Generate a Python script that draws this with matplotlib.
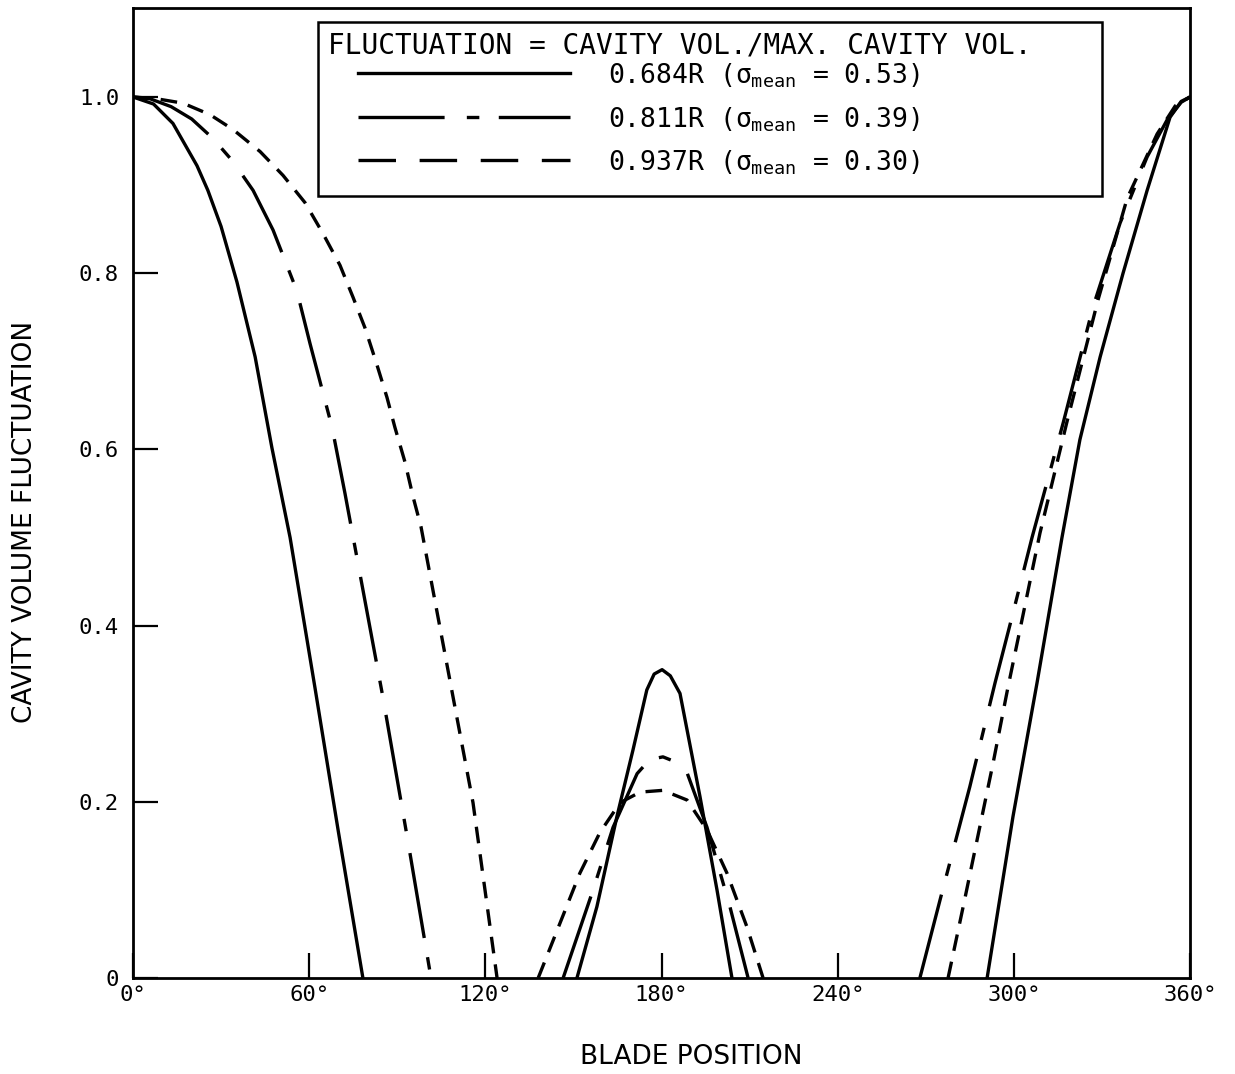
import numpy as np
import matplotlib
matplotlib.use('Agg')
import matplotlib.pyplot as plt
from matplotlib.patches import Rectangle

plt.rcParams['font.family'] = ['DejaVu Sans Mono', 'DejaVu Sans']
plt.rcParams['mathtext.fontset'] = 'custom'
plt.rcParams['mathtext.rm'] = 'DejaVu Sans Mono'
plt.rcParams['mathtext.it'] = 'DejaVu Sans Mono'
plt.rcParams['lines.scale_dashes'] = False

# 0.684R (solid) - three branches
r684_x = [0, 7, 13.6, 21.8, 25.5, 30.0, 35.4, 41.6, 47.3, 53.5, 62.0, 70.0, 78.3, np.nan,
          151.2, 158.0, 164.8, 170.3, 175.0, 177.5, 180.2, 183.0, 186.3, 193.1, 198.9, 204.0, np.nan,
          290.9, 299.7, 307.9, 316.4, 322.5, 329.4, 337.2, 345.4, 353.2, 357.0, 360.0]
r684_y = [1.0, 0.992, 0.970, 0.922, 0.894, 0.853, 0.790, 0.705, 0.602, 0.500, 0.329, 0.165, 0.0, np.nan,
          0.0, 0.081, 0.183, 0.259, 0.327, 0.345, 0.350, 0.343, 0.323, 0.206, 0.100, 0.0, np.nan,
          0.0, 0.183, 0.335, 0.500, 0.611, 0.705, 0.800, 0.894, 0.977, 0.995, 1.0]

# 0.811R (dash-dot)
r811_x = [0, 5.8, 13.0, 20.0, 27.2, 34.0, 40.9, 47.7, 55.8, 60.3, 67.8, 72.2, 85.1, 93.7, 101.5, np.nan,
          146.5, 156.7, 163.5, 171.7, 176.0, 180.5, 185.0, 188.7, 195.5, 203.3, 209.5, np.nan,
          268.0, 274.9, 285.0, 293.6, 299.7, 306.2, 316.8, 327.0, 336.2, 345.4, 352.2, 357.0, 360.0]
r811_y = [1.0, 0.998, 0.989, 0.975, 0.953, 0.927, 0.894, 0.849, 0.780, 0.720, 0.625, 0.550, 0.319, 0.154, 0.0, np.nan,
          0.0, 0.100, 0.171, 0.232, 0.248, 0.251, 0.245, 0.233, 0.171, 0.081, 0.0, np.nan,
          0.0, 0.089, 0.217, 0.335, 0.414, 0.500, 0.630, 0.762, 0.857, 0.932, 0.974, 0.994, 1.0]

# 0.937R (dashed)
r937_x = [0, 8, 17.0, 26.2, 34.1, 43.3, 51.1, 58.6, 64.7, 70.5, 74.9, 79.0, 82.8, 86.5, 89.2,
          92.6, 95.4, 98.1, 109.0, 115.8, 124.0, np.nan,
          138.0, 145.4, 152.2, 159.0, 165.9, 172.7, 180.5, 188.7, 195.5, 202.3, 209.1, 214.6, np.nan,
          277.6, 283.0, 288.0, 293.0, 298.0, 303.0, 308.9, 318.0, 328.7, 338.6, 348.8, 355.0, 360.0]
r937_y = [1.0, 0.998, 0.993, 0.980, 0.963, 0.938, 0.911, 0.880, 0.845, 0.809, 0.773, 0.738, 0.699, 0.659, 0.625,
          0.586, 0.546, 0.512, 0.319, 0.199, 0.0, np.nan,
          0.0, 0.062, 0.119, 0.165, 0.199, 0.211, 0.213, 0.202, 0.168, 0.119, 0.058, 0.0, np.nan,
          0.0, 0.085, 0.165, 0.245, 0.330, 0.410, 0.505, 0.630, 0.770, 0.885, 0.958, 0.990, 1.0]

x_ticks = [0, 60, 120, 180, 240, 300, 360]
x_labels = ['0°', '60°', '120°', '180°', '240°', '300°', '360°']
y_ticks = [0, 0.2, 0.4, 0.6, 0.8, 1.0]
y_labels = ['0', '0.2', '0.4', '0.6', '0.8', '1.0']

legend_title = 'FLUCTUATION = CAVITY VOL./MAX. CAVITY VOL.'
legend_labels = [r'0.684R ($\sigma_{\mathrm{mean}}$ = 0.53)',
                 r'0.811R ($\sigma_{\mathrm{mean}}$ = 0.39)',
                 r'0.937R ($\sigma_{\mathrm{mean}}$ = 0.30)']

lw = 2.4
dashdot = (0, (62, 14, 9, 16))
dashed = (0, (12, 8))

fig = plt.figure(figsize=(12.35, 10.74), dpi=100)
ax = fig.add_axes([133 / 1235, 1 - 978 / 1074, (1190 - 133) / 1235, (978 - 8) / 1074])

ax.plot(r684_x, r684_y, color='black', lw=lw, linestyle='-')
ax.plot(r811_x, r811_y, color='black', lw=lw, linestyle=dashdot)
ax.plot(r937_x, r937_y, color='black', lw=lw, linestyle=dashed)

ax.set_xlim(0, 360)
ax.set_ylim(0, 1.101)
ax.set_xticks(x_ticks)
ax.set_xticklabels(x_labels)
ax.set_yticks(y_ticks)
ax.set_yticklabels(y_labels)
ax.tick_params(direction='in', length=18, width=1.6, labelsize=16)
ax.tick_params(axis='y', pad=10)
ax.tick_params(axis='x', pad=5)
for s in ax.spines.values():
    s.set_linewidth(2.0)

fig.text(691 / 1235, 1 - 1057 / 1074, 'BLADE POSITION', ha='center', va='center',
         fontsize=19, family='DejaVu Sans')
fig.text(25 / 1235, 1 - 522 / 1074, 'CAVITY VOLUME FLUCTUATION', ha='center', va='center',
         rotation=90, fontsize=19, family='DejaVu Sans')

# legend box drawn in axes fraction
def fx(px):
    return (px - 133) / 1057

def fy(py):
    return (978 - py) / 970

ax.add_patch(Rectangle((fx(318), fy(196)), fx(1102) - fx(318), fy(22) - fy(196),
                       transform=ax.transAxes, fill=True, facecolor='white',
                       edgecolor='black', lw=1.8, zorder=5))
ax.text(fx(328), fy(46), legend_title, transform=ax.transAxes, fontsize=20,
        va='center', ha='left', zorder=6)
styles = ['-', (0, (62, 16, 9, 14)), (0, (27, 17))]
rows = [73, 117, 160]
for st, row, lab in zip(styles, rows, legend_labels):
    ax.plot([fx(358), fx(570)], [fy(row), fy(row)], transform=ax.transAxes,
            color='black', lw=lw, linestyle=st, zorder=6)
    ax.text(fx(608), fy(row + 3), lab, transform=ax.transAxes, fontsize=19,
            va='center', ha='left', zorder=6)

fig.savefig('out.png', dpi=100)
